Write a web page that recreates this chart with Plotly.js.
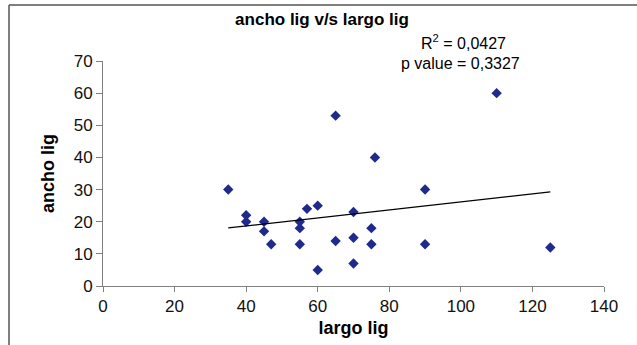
<!DOCTYPE html>
<html>
<head>
<meta charset="utf-8">
<script src="https://cdn.plot.ly/plotly-3.0.1.min.js"></script>
<style>
html,body{margin:0;padding:0;background:#fff;}
#chart{width:637px;height:345px;}
</style>
</head>
<body>
<div id="chart"></div>
<script>
// Data
var largoLig = [35, 40, 40, 45, 45, 47, 55, 55, 55, 57, 60, 60, 65, 65, 70, 70, 70, 75, 75, 76, 90, 90, 110, 125];
var anchoLig = [30, 22, 20, 20, 17, 13, 20, 18, 13, 24, 25, 5, 53, 14, 23, 15, 7, 18, 13, 40, 30, 13, 60, 12];
var xTicks = [0, 20, 40, 60, 80, 100, 120, 140];
var yTicks = [0, 10, 20, 30, 40, 50, 60, 70];
var chartTitle = 'ancho lig v/s largo lig';
var xTitle = 'largo lig';
var yTitle = 'ancho lig';
var r2Text = 'R<sup>2</sup> = 0,0427';
var pText = 'p value = 0,3327';

// Linear trend (least squares) from the data
var n = largoLig.length, sx = 0, sy = 0, sxx = 0, sxy = 0;
for (var i = 0; i < n; i++) { sx += largoLig[i]; sy += anchoLig[i]; sxx += largoLig[i]*largoLig[i]; sxy += largoLig[i]*anchoLig[i]; }
var slope = (n*sxy - sx*sy) / (n*sxx - sx*sx);
var intercept = (sy - slope*sx) / n;
var xMin = Math.min.apply(null, largoLig), xMax = Math.max.apply(null, largoLig);
var trendX = [xMin, xMax];
var trendY = [intercept + slope*xMin, intercept + slope*xMax];

var W = 637, H = 345;
var m = {l: 103, r: 33, t: 61, b: 59};
var pw = W - m.l - m.r, ph = H - m.t - m.b;
function px(v){ return (v - m.l) / pw; }
function py(v){ return 1 - (v - m.t) / ph; }

var FF = 'Arial, Liberation Sans, sans-serif';
var traces = [
  {x: largoLig, y: anchoLig, type: 'scatter', mode: 'markers',
   marker: {symbol: 'diamond', size: 8, color: '#1f2a8c'}, hoverinfo: 'x+y'},
  {x: trendX, y: trendY, type: 'scatter', mode: 'lines',
   line: {color: '#000000', width: 1.2}, hoverinfo: 'skip'}
];

var layout = {
  width: W, height: H,
  margin: m,
  paper_bgcolor: '#fff', plot_bgcolor: '#fff',
  showlegend: false,
  title: {text: '<b>' + chartTitle + '</b>', xref: 'paper', x: px(322), xanchor: 'center', yref: 'container', y: 1 - 19/H, yanchor: 'middle',
          font: {family: FF, size: 17, color: '#000'}},
  xaxis: {range: [0, 140], tickvals: xTicks, ticktext: xTicks.map(String),
          showgrid: false, zeroline: false, showline: true, linecolor: '#808080', linewidth: 1,
          ticks: 'outside', ticklen: 5, tickcolor: '#808080', tickfont: {family: FF, size: 17, color: '#111'},
          title: {text: '<b>' + xTitle + '</b>', font: {family: FF, size: 18, color: '#000'}, standoff: 5}},
  yaxis: {range: [0, 70], tickvals: yTicks, ticktext: yTicks.map(String),
          showgrid: false, zeroline: false, showline: true, linecolor: '#808080', linewidth: 1,
          ticks: 'outside', ticklen: 6, tickcolor: '#808080', tickfont: {family: FF, size: 17, color: '#111'},
          title: {text: '<b>' + yTitle + '</b>', font: {family: FF, size: 18, color: '#000'}, standoff: 14}},
  annotations: [
    {text: r2Text, xref: 'paper', yref: 'paper', x: px(463), y: py(42), xanchor: 'center', yanchor: 'middle',
     showarrow: false, borderpad: 0, font: {family: FF, size: 16, color: '#000'}},
    {text: pText, xref: 'paper', yref: 'paper', x: px(460), y: py(64), xanchor: 'center', yanchor: 'middle',
     showarrow: false, borderpad: 0, font: {family: FF, size: 16, color: '#000'}}
  ],
  shapes: [
    {type: 'line', xref: 'paper', yref: 'paper', x0: px(9), x1: px(9), y0: py(5), y1: py(345), line: {color: '#555', width: 1.5}},
    {type: 'line', xref: 'paper', yref: 'paper', x0: px(9), x1: px(637), y0: py(5), y1: py(5), line: {color: '#555', width: 1.5}}
  ]
};

Plotly.newPlot('chart', traces, layout, {displayModeBar: false, staticPlot: true});
</script>
</body>
</html>
